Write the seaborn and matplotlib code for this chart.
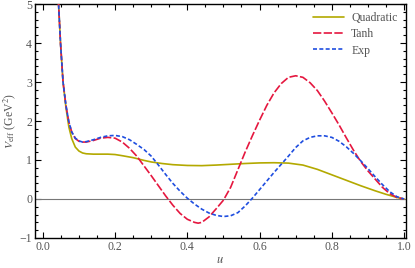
import numpy as np
import pandas as pd
import matplotlib
matplotlib.use("Agg")
import matplotlib.pyplot as plt
import seaborn as sns
from matplotlib.ticker import MultipleLocator

sns.set_style("ticks")
plt.rcParams['font.family'] = ['Liberation Serif', 'DejaVu Serif']
plt.rcParams['mathtext.fontset'] = 'stix'

# values
u_quad = [0.042, 0.049, 0.056, 0.064, 0.072, 0.08, 0.09, 0.10, 0.11, 0.12, 0.14, 0.16, 0.18,
          0.20, 0.22, 0.25, 0.28, 0.30, 0.33, 0.36, 0.40, 0.44, 0.48, 0.52, 0.56, 0.60,
          0.64, 0.68, 0.72, 0.76, 0.80, 0.84, 0.88, 0.92, 0.95, 0.98, 1.0]
v_quad = [5.3, 4.0, 3.0, 2.35, 1.85, 1.55, 1.33, 1.23, 1.18, 1.16, 1.15, 1.15, 1.15,
          1.14, 1.11, 1.06, 0.99, 0.95, 0.91, 0.88, 0.86, 0.855, 0.87, 0.89, 0.91, 0.925,
          0.93, 0.92, 0.87, 0.76, 0.62, 0.48, 0.34, 0.21, 0.12, 0.04, 0.0]

u_tanh = [0.042, 0.049, 0.056, 0.064, 0.072, 0.08, 0.09, 0.10, 0.11, 0.12, 0.14, 0.16, 0.18,
          0.20, 0.22, 0.24, 0.26, 0.28, 0.30, 0.32, 0.34, 0.36, 0.38, 0.40, 0.42, 0.43,
          0.44, 0.46, 0.48, 0.50, 0.52, 0.54, 0.56, 0.58, 0.60, 0.62, 0.64, 0.66, 0.68,
          0.70, 0.72, 0.74, 0.76, 0.78, 0.80, 0.82, 0.84, 0.86, 0.88, 0.90, 0.92, 0.94,
          0.96, 0.98, 1.0]
v_tanh = [5.3, 4.0, 3.0, 2.4, 1.98, 1.72, 1.55, 1.48, 1.46, 1.46, 1.50, 1.56, 1.58,
          1.56, 1.46, 1.30, 1.10, 0.85, 0.60, 0.34, 0.08, -0.16, -0.37, -0.52, -0.60, -0.62,
          -0.60, -0.46, -0.25, -0.03, 0.30, 0.75, 1.20, 1.62, 2.02, 2.40, 2.72, 2.96, 3.12,
          3.16, 3.12, 2.98, 2.78, 2.51, 2.21, 1.90, 1.57, 1.25, 0.96, 0.72, 0.51, 0.30,
          0.14, 0.04, 0.0]

u_exp = [0.042, 0.049, 0.056, 0.064, 0.072, 0.08, 0.09, 0.10, 0.11, 0.12, 0.14, 0.16, 0.18,
         0.20, 0.22, 0.24, 0.26, 0.28, 0.30, 0.32, 0.34, 0.36, 0.38, 0.40, 0.42, 0.44,
         0.46, 0.48, 0.50, 0.52, 0.54, 0.56, 0.58, 0.60, 0.62, 0.64, 0.66, 0.68, 0.70,
         0.72, 0.74, 0.76, 0.78, 0.80, 0.82, 0.84, 0.86, 0.88, 0.90, 0.92, 0.94, 0.96,
         0.98, 1.0]
v_exp = [5.3, 4.0, 3.0, 2.4, 1.98, 1.72, 1.56, 1.49, 1.46, 1.47, 1.52, 1.58, 1.62,
         1.63, 1.60, 1.52, 1.40, 1.27, 1.10, 0.87, 0.63, 0.40, 0.20, 0.02, -0.13, -0.26,
         -0.36, -0.42, -0.45, -0.43, -0.35, -0.18, 0.02, 0.24, 0.46, 0.68, 0.89, 1.10, 1.32,
         1.49, 1.58, 1.62, 1.62, 1.58, 1.48, 1.34, 1.17, 0.98, 0.78, 0.57, 0.37, 0.19,
         0.06, 0.0]

labels = ["Quadratic", "Tanh", "Exp"]
colors = ["#b3a900", "#e5173f", "#1f4ee0"]
styles = ["-", (0, (5, 1.4)), (0, (2.4, 1.4))]

fig = plt.figure(figsize=(4.15, 2.68), dpi=100)
ax = fig.add_axes([0.084, 0.112, 0.894, 0.873])

ax.axhline(0, color="#777777", lw=0.8, zorder=1)

series = [(u_quad, v_quad), (u_tanh, v_tanh), (u_exp, v_exp)]
for (u, v), lab, c, ls in zip(series, labels, colors, styles):
    sns.lineplot(x=u, y=v, ax=ax, color=c, linestyle=ls, lw=1.2, label=lab, zorder=3)

ax.set_xlim(-0.022, 1.005)
ax.set_ylim(-1, 5)
ax.xaxis.set_major_locator(MultipleLocator(0.2))
ax.xaxis.set_minor_locator(MultipleLocator(0.05))
ax.yaxis.set_major_locator(MultipleLocator(1))
ax.yaxis.set_minor_locator(MultipleLocator(0.2))
ax.set_xticklabels([f"{t:.1f}" for t in ax.get_xticks()])
ax.yaxis.set_major_formatter(matplotlib.ticker.FuncFormatter(
    lambda t, p: f"{int(t)}".replace("-", "\u2212")))

ax.tick_params(which="both", direction="in", top=True, right=True,
               labelsize=8.5, labelcolor="#555555", color="black", width=0.8, pad=2)
ax.tick_params(which="major", length=4)
ax.tick_params(which="minor", length=2)
for s in ax.spines.values():
    s.set_linewidth(1.0)
    s.set_color("black")

ax.set_xlabel("$u$", fontsize=9, color="#555555", labelpad=0)
ax.xaxis.set_label_coords(0.5, -0.07)
ax.set_ylabel(r"$V_{\rm eff}$ (GeV$^2$)", fontsize=8.5, color="#555555", labelpad=1)

leg = ax.legend(loc="upper right", frameon=False, fontsize=8.5, handlelength=2.6,
                labelspacing=0.35, borderaxespad=0.3, handletextpad=0.6)
for t in leg.get_texts():
    t.set_color("#555555")

fig.savefig("out.png", dpi=100)
